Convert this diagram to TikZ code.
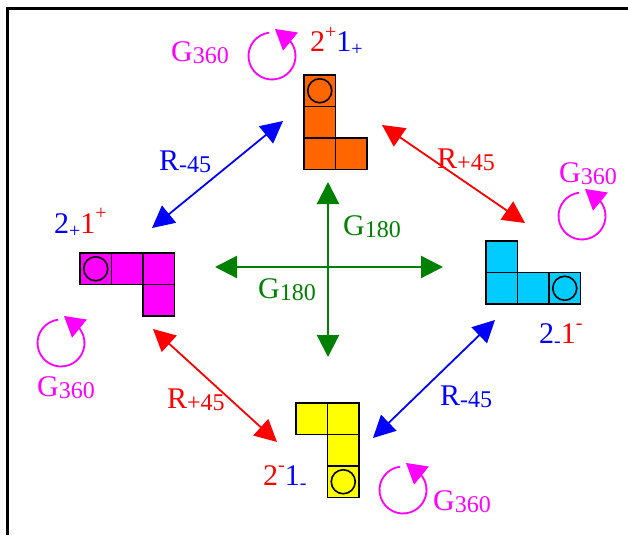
\documentclass[tikz,border=0pt]{standalone}
\usepackage{fontspec}
\setmainfont{Liberation Serif}
\definecolor{TileOrange}{HTML}{FF6600}
\definecolor{TileCyan}{HTML}{00CCFF}
\definecolor{TileYellow}{HTML}{FFFF00}
\definecolor{TileMagenta}{HTML}{FF00FF}
\definecolor{RotGreen}{HTML}{008000}
\usetikzlibrary{arrows.meta, positioning}
\newcommand{\lowtxt}[1]{\raisebox{-2.5pt}{\fontsize{24}{24}\selectfont #1}}
\newcommand{\hisgn}[1]{\raisebox{13.5pt}{\fontsize{20}{20}\selectfont #1}}
\newcommand{\losgn}[1]{\raisebox{-4pt}{\fontsize{20}{20}\selectfont #1}}

\begin{document}
\begin{tikzpicture}[x=1pt, y=-1pt, node distance=0pt,
  cell/.style={draw, line width=1.8pt, minimum size=31.5pt, inner sep=0pt, outer sep=0pt},
  hole/.style={draw, circle, line width=1.6pt, minimum size=24pt, inner sep=0pt},
  lbl/.style={anchor=base west, inner sep=0pt, font=\fontsize{30}{36}\selectfont},
  twoway/.style={line width=1.8pt, {Triangle[length=22pt,width=22pt]}-{Triangle[length=22pt,width=22pt]}},
  spin/.style={TileMagenta, line width=1.8pt, -{Triangle[length=20pt,width=23pt]}}]
  \useasboundingbox (0,0) rectangle (628,535);
  \draw[line width=3pt] (7.5,535) -- (7.5,8.3) -- (628,8.3);

  % orange tile
  \node[cell, fill=TileOrange] (o1) at (319.75,90.75) {};
  \node[cell, fill=TileOrange, below=of o1] (o2) {};
  \node[cell, fill=TileOrange, below=of o2] (o3) {};
  \node[cell, fill=TileOrange, right=of o3] (o4) {};
  \node[hole] (oh) at (o1) {};
  \node[lbl] (oL) at (310,52) {\textcolor{red}{2\hisgn{+}}\textcolor{blue}{1\losgn{+}}};

  % magenta tile
  \node[cell, fill=TileMagenta] (m1) at (95.75,268.75) {};
  \node[cell, fill=TileMagenta, right=of m1] (m2) {};
  \node[cell, fill=TileMagenta, right=of m2] (m3) {};
  \node[cell, fill=TileMagenta, below=of m3] (m4) {};
  \node[hole] (mh) at (m1) {};
  \node[lbl] (mL) at (54,233) {\textcolor{blue}{2\losgn{+}}\textcolor{red}{1\hisgn{+}}};

  % cyan tile
  \node[cell, fill=TileCyan] (c1) at (501.75,256.75) {};
  \node[cell, fill=TileCyan, below=of c1] (c2) {};
  \node[cell, fill=TileCyan, right=of c2] (c3) {};
  \node[cell, fill=TileCyan, right=of c3] (c4) {};
  \node[hole] (ch) at (c4) {};
  \node[lbl] (cL) at (539,343) {\textcolor{blue}{2\losgn{-}}\textcolor{red}{1\hisgn{-}}};

  % yellow tile
  \node[cell, fill=TileYellow] (y1) at (311.75,418.75) {};
  \node[cell, fill=TileYellow, right=of y1] (y2) {};
  \node[cell, fill=TileYellow, below=of y2] (y3) {};
  \node[cell, fill=TileYellow, below=of y3] (y4) {};
  \node[hole] (yh) at (y4) {};
  \node[lbl] (yL) at (263,485) {\textcolor{red}{2\hisgn{-}}\textcolor{blue}{1\losgn{-}}};

  % reflections
  \coordinate (bA) at (283,121); \coordinate (bB) at (152,228);
  \coordinate (rA) at (382,125); \coordinate (rB) at (525,223);
  \coordinate (rC) at (153,329); \coordinate (rD) at (277,442);
  \coordinate (bC) at (495,320); \coordinate (bD) at (373,438);
  \draw[twoway, blue] (bA) -- (bB);
  \draw[twoway, red] (rA) -- (rB);
  \draw[twoway, red] (rC) -- (rD);
  \draw[twoway, blue] (bC) -- (bD);
  \node[lbl, blue] (rTL) at (159,170) {R\lowtxt{-45}};
  \node[lbl, red] (rTR) at (437,168) {R\lowtxt{+45}};
  \node[lbl, red] (rBL) at (167,408) {R\lowtxt{+45}};
  \node[lbl, blue] (rBR) at (440,405) {R\lowtxt{-45}};

  % half turns
  \coordinate (gN) at (328,182); \coordinate (gS) at (328,357);
  \coordinate (gW) at (215,267); \coordinate (gE) at (443,267);
  \draw[twoway, RotGreen, line width=2.2pt] (gN) -- (gS);
  \draw[twoway, RotGreen, line width=2.2pt] (gW) -- (gE);
  \node[lbl, RotGreen] (gU) at (343,235) {G\lowtxt{180}};
  \node[lbl, RotGreen] (gD) at (258,298) {G\lowtxt{180}};

  % full turns
  \coordinate (sO) at (272,56);
  \coordinate (sC) at (582,216);
  \coordinate (sM) at (61,343);
  \coordinate (sY) at (403,490);
  \foreach \c in {sO,sC,sM,sY}
    \draw[spin] (\c) ++(-97:23.5) arc[start angle=-97, end angle=-397, radius=23.5]
      -- ++(-15.8,-12.9);
  \node[lbl, TileMagenta] (sOL) at (171,61) {G\lowtxt{360}};
  \node[lbl, TileMagenta] (sCL) at (559,182) {G\lowtxt{360}};
  \node[lbl, TileMagenta] (sML) at (37,396) {G\lowtxt{360}};
  \node[lbl, TileMagenta] (sYL) at (433,510) {G\lowtxt{360}};
\end{tikzpicture}
\end{document}
